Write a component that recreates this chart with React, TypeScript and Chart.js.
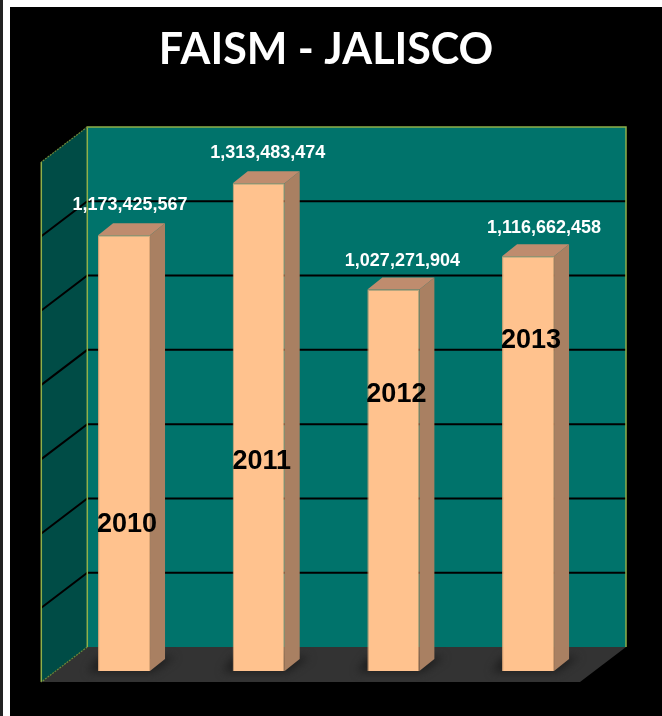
import React, { useEffect, useRef } from "react";
import { Chart, registerables } from "chart.js";

Chart.register(...registerables);

const categories = ["2010", "2011", "2012", "2013"];
const values = [1173425567, 1313483474, 1027271904, 1116662458];
const yearLabelLevels = [395000000, 565000000, 745000000, 890000000];
const valueLabelShiftX = [6, 9, 9, 16];
const valueLabelShiftY = [30, 30, 28, 28];
const axisMax = 1400000000;
const axisStep = 200000000;

const DEPTH_X = 46, DEPTH_Y = 35; // full wall depth
const BAR_DX = 15, BAR_DY = 12;   // bar depth
const FRONT_DX = 30.6, FRONT_DY = 24; // bar plane to back wall

const scene = {
  id: "scene3d",
  beforeDatasetsDraw(chart: any) {
    const { ctx, chartArea: a, scales: { y } } = chart;
    const bx0 = a.left + FRONT_DX, bx1 = a.right + FRONT_DX;
    const by0 = y.getPixelForValue(axisMax) - FRONT_DY, by1 = y.getPixelForValue(0) - FRONT_DY;
    ctx.save();
    // back wall
    ctx.fillStyle = "#00736B";
    ctx.fillRect(bx0, by0, bx1 - bx0, by1 - by0);
    // left wall
    ctx.fillStyle = "#004C46";
    ctx.beginPath();
    ctx.moveTo(bx0, by0); ctx.lineTo(bx0 - DEPTH_X, by0 + DEPTH_Y);
    ctx.lineTo(bx0 - DEPTH_X, by1 + DEPTH_Y); ctx.lineTo(bx0, by1); ctx.closePath(); ctx.fill();
    // floor
    ctx.fillStyle = "#333333";
    ctx.beginPath();
    ctx.moveTo(bx0, by1); ctx.lineTo(bx1, by1);
    ctx.lineTo(bx1 - DEPTH_X, by1 + DEPTH_Y); ctx.lineTo(bx0 - DEPTH_X, by1 + DEPTH_Y); ctx.closePath(); ctx.fill();
    // grid
    ctx.strokeStyle = "#000000"; ctx.lineWidth = 2;
    y.ticks.forEach((t: any) => {
      if (t.value === 0 || t.value === axisMax) return;
      const py = y.getPixelForValue(t.value) - FRONT_DY;
      ctx.beginPath();
      ctx.moveTo(bx1, py); ctx.lineTo(bx0, py); ctx.lineTo(bx0 - DEPTH_X, py + DEPTH_Y);
      ctx.stroke();
    });
    // wall edges
    ctx.strokeStyle = "#8FB04A"; ctx.lineWidth = 1.5;
    ctx.beginPath();
    ctx.moveTo(bx0, by1); ctx.lineTo(bx0, by0); ctx.lineTo(bx1, by0); ctx.lineTo(bx1, by1);
    ctx.moveTo(bx0 - DEPTH_X, by0 + DEPTH_Y); ctx.lineTo(bx0 - DEPTH_X, by1 + DEPTH_Y);
    ctx.stroke();
    ctx.strokeStyle = "#6F8A3A"; ctx.lineWidth = 1.2; ctx.setLineDash([2, 1]);
    ctx.beginPath();
    ctx.moveTo(bx0, by0); ctx.lineTo(bx0 - DEPTH_X, by0 + DEPTH_Y);
    ctx.moveTo(bx0, by1); ctx.lineTo(bx0 - DEPTH_X, by1 + DEPTH_Y);
    ctx.stroke();
    ctx.setLineDash([]);
    // bar sides, tops, floor shadows
    const meta = chart.getDatasetMeta(0);
    meta.data.forEach((bar: any) => {
      const half = bar.width / 2, l = bar.x - half, r = bar.x + half, t = bar.y, b = bar.base;
      ctx.save();
      ctx.filter = "blur(4px)";
      ctx.fillStyle = "#1E1E1E";
      ctx.beginPath();
      ctx.moveTo(l - 10, b + 1); ctx.lineTo(r + 3, b + 1); ctx.lineTo(r + BAR_DX + 10, b - BAR_DY - 2); ctx.lineTo(l, b - BAR_DY - 2);
      ctx.closePath(); ctx.fill();
      ctx.restore();
      ctx.fillStyle = "#A98062";
      ctx.beginPath();
      ctx.moveTo(r, t); ctx.lineTo(r + BAR_DX, t - BAR_DY); ctx.lineTo(r + BAR_DX, b - BAR_DY); ctx.lineTo(r, b); ctx.closePath(); ctx.fill();
      ctx.fillStyle = "#BF8C6E";
      ctx.beginPath();
      ctx.moveTo(l, t); ctx.lineTo(l + BAR_DX, t - BAR_DY); ctx.lineTo(r + BAR_DX, t - BAR_DY); ctx.lineTo(r, t); ctx.closePath(); ctx.fill();
    });
    ctx.restore();
  },
  afterDatasetsDraw(chart: any) {
    const { ctx, scales: { y } } = chart;
    const meta = chart.getDatasetMeta(0);
    ctx.save();
    ctx.textAlign = "center";
    ctx.textBaseline = "middle";
    meta.data.forEach((bar: any, i: number) => {
      ctx.fillStyle = "#FFFFFF";
      ctx.font = "bold 18px 'Liberation Sans'";
      ctx.fillText(values[i].toLocaleString("en-US"), bar.x + valueLabelShiftX[i], bar.y - valueLabelShiftY[i]);
      ctx.fillStyle = "#000000";
      ctx.font = "bold 27px 'Liberation Sans Narrow', 'Liberation Sans'";
      ctx.fillText(categories[i], bar.x + 3, y.getPixelForValue(yearLabelLevels[i]));
    });
    ctx.restore();
  },
};

export default function App() {
  const ref = useRef<HTMLCanvasElement>(null);
  useEffect(() => {
    document.body.style.margin = "0";
    const chart = new Chart(ref.current!, {
      type: "bar",
      data: {
        labels: categories,
        datasets: [{
          data: values,
          backgroundColor: "#FFC28E",
          borderColor: "#DDA677",
          borderWidth: 1,
          categoryPercentage: 1,
          barPercentage: 0.386,
        }],
      },
      options: {
        animation: false,
        responsive: false,
        devicePixelRatio: 1,
        layout: { padding: { left: 56.7, right: 662 - 595.4, top: 0, bottom: 716 - 671 } },
        plugins: {
          legend: { display: false },
          tooltip: { enabled: false },
          title: {
            display: true,
            text: "FAISM - JALISCO",
            color: "#FFFFFF",
            font: { family: "Lato", size: 43, weight: "bold", lineHeight: 1.2 },
            padding: { top: 24, bottom: 151 - 24 - 51.6 },
          },
        },
        scales: {
          x: { display: false },
          y: { display: false, min: 0, max: axisMax, ticks: { stepSize: axisStep } },
        },
      },
      plugins: [scene],
    } as any);
    return () => chart.destroy();
  }, []);
  return (
    <div style={{ position: "fixed", left: 0, top: 0, width: 662, height: 716, background: "#FFFFFF", overflow: "hidden" }}>
      <div style={{ position: "absolute", left: 0, top: 0, width: 3, height: 716, background: "#222222" }} />
      <div style={{ position: "absolute", left: 10, top: 7, right: 0, bottom: 0, background: "#000000" }} />
      <canvas ref={ref} width={662} height={716} style={{ position: "absolute", left: 0, top: 0, display: "block" }} />
    </div>
  );
}
